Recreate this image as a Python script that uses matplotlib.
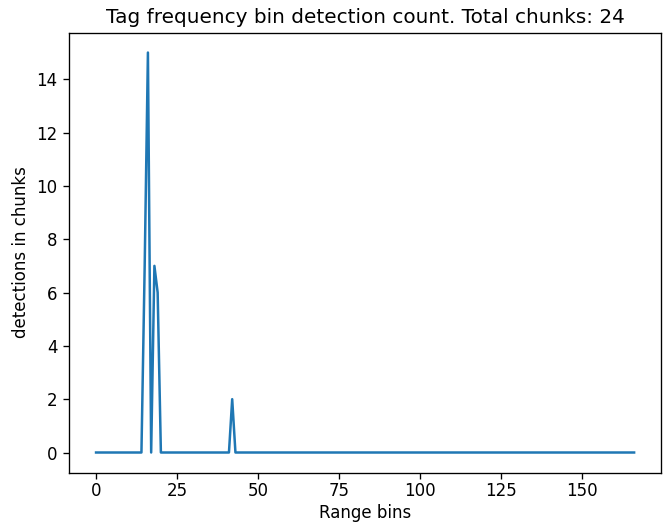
import numpy as np
import matplotlib
matplotlib.use('Agg')
from matplotlib import pyplot as plt

# range bins 0..166, most of them never detected
n_bins = 167
peak_bins = [15, 16, 18, 19, 42]
peak_counts = [7, 15, 7, 6, 2]
total_chunks = 24

counts = np.zeros(n_bins)
counts[peak_bins] = peak_counts

dpi = 120
fig = plt.figure(figsize=(665 / dpi, 525 / dpi), dpi=dpi)
plt.subplots_adjust(left=0.104, right=0.994, top=0.938, bottom=0.100)
plt.plot(np.arange(n_bins), counts)
plt.title('Tag frequency bin detection count. Total chunks: %i' % total_chunks)
plt.xlabel('Range bins', labelpad=2.5)
plt.ylabel('detections in chunks')
plt.tick_params(axis='x', pad=2)
plt.savefig('out.png', dpi=dpi)
